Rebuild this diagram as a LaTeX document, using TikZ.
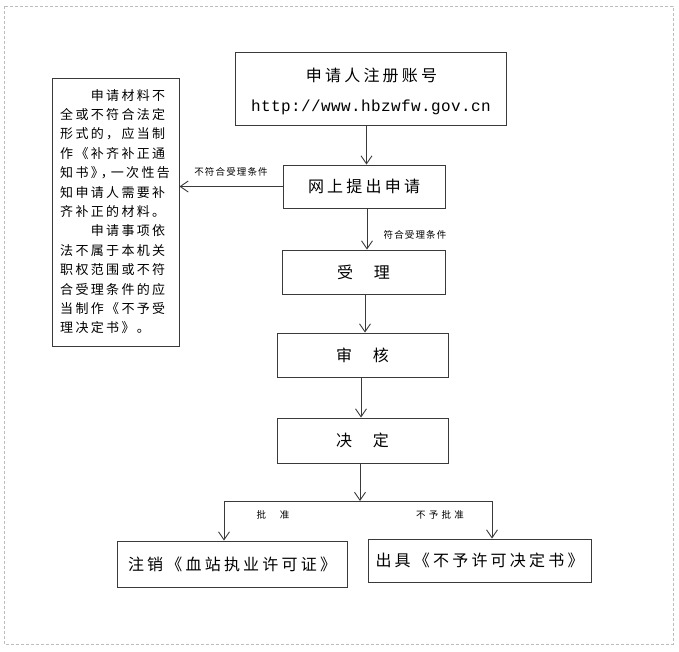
\documentclass[tikz,border=0pt]{standalone}
\usepackage{fontspec}
\usetikzlibrary{arrows.meta,calc}
\newfontfamily\cjkbig[LetterSpace=20]{Noto Sans CJK SC}
\newfontfamily\cjkside[LetterSpace=18]{Noto Sans CJK SC}
\newfontfamily\cjksmall[LetterSpace=12]{Noto Sans CJK SC}
\newfontfamily\cjkwide[LetterSpace=35]{Noto Sans CJK SC}
\newfontfamily\urlfont[LetterSpace=2.5]{Liberation Mono}
\definecolor{ln}{HTML}{3A3A3A}
\definecolor{frame}{HTML}{BDBDBD}
\begin{document}
\begin{tikzpicture}[x=1pt,y=-1pt,
  box/.style={draw=ln,line width=0.9pt,rectangle,inner sep=0pt,align=center,
    font=\cjkbig\fontsize{16}{33}\selectfont},
  txt/.style={inner sep=0pt,font=\cjkbig\fontsize{16}{20}\selectfont},
  arr/.style={draw=ln,line width=0.9pt,-{Straight Barb[length=8pt,width=11pt]}},
  conn/.style={draw=ln,line width=0.9pt},
  lbl/.style={inner sep=0pt,font=\cjksmall\fontsize{9.5}{11}\selectfont}]
\useasboundingbox (0,0) rectangle (679,651);
\draw[frame,line width=0.8pt,dash pattern=on 3pt off 2pt] (4,6) rectangle (673,644);

\node[box,minimum width=271,minimum height=73] (b1) at (370.5,88.5) {};
\node[txt] (b1a) at (371.5,75) {申请人注册账号};
\node[txt,font=\urlfont\fontsize{16}{20}\selectfont] (b1b) at (371,107) {http://www.hbzwfw.gov.cn};
\node[box,minimum width=162,minimum height=43] (b2) at (364,186.5) {网上提出申请};
\node[box,minimum width=163,minimum height=44] (b3) at (363.5,272) {受\hspace{20.8pt}理};
\node[box,minimum width=171,minimum height=44] (b4) at (362.5,355) {审\hspace{20.8pt}核};
\node[box,minimum width=171,minimum height=45] (b5) at (362.5,440.5) {决\hspace{20.8pt}定};
\node[box,minimum width=230,minimum height=46] (b6) at (232,564) {注销《血站执业许可证》};
\node[box,minimum width=223,minimum height=43] (b7) at (479.5,560.5) {出具《不予许可决定书》};

\node[box,minimum width=127,minimum height=268] (lb) at (115.5,212) {};
\node[inner sep=0pt,align=left,anchor=north west,
  font=\cjkside\fontsize{13}{19.4}\selectfont] (lbt) at (60,89)
  {　　申请材料不\\
   全或不符合法定\\
   形式的，应当制\\
   作《补齐补正通\\
   知书》\kern-3pt，\kern-3pt一次性告\\
   知申请人需要补\\
   齐补正的材料。\\
   　　申请事项依\\
   法不属于本机关\\
   职权范围或不符\\
   合受理条件的应\\
   当制作《不予受\\
   理决定书》。};

\draw[arr] ([xshift=-4pt]b1.south) -- ([xshift=-4pt]b1.south |- b2.north);
\draw[arr] ([xshift=3pt]b2.south) -- ([xshift=3pt]b2.south |- b3.north);
\draw[arr] ([xshift=1.5pt]b3.south) -- ([xshift=1.5pt]b3.south |- b4.north);
\draw[arr] ([xshift=-1.5pt]b4.south) -- ([xshift=-1.5pt]b4.south |- b5.north);
\draw[arr] (b2.west) -- (b2.west -| lb.east);

\coordinate (split) at (360,501);
\coordinate (sl) at (224,501);
\coordinate (sr) at (492,501);
\draw[arr] (b5.south -| split) -- (split);
\draw[conn] (sl) -- (sr);
\draw[arr] (sl) -- (sl |- b6.north);
\draw[arr] (sr) -- (sr |- b7.north);

\node[lbl] (l1) at (231,172) {不符合受理条件};
\node[lbl] (l2) at (415,235) {符合受理条件};
\node[lbl] (l3) at (273,515) {批\hspace{14pt}准};
\node[lbl,font=\cjkwide\fontsize{9.5}{11}\selectfont] (l4) at (440,515) {不予批准};
\end{tikzpicture}
\end{document}
